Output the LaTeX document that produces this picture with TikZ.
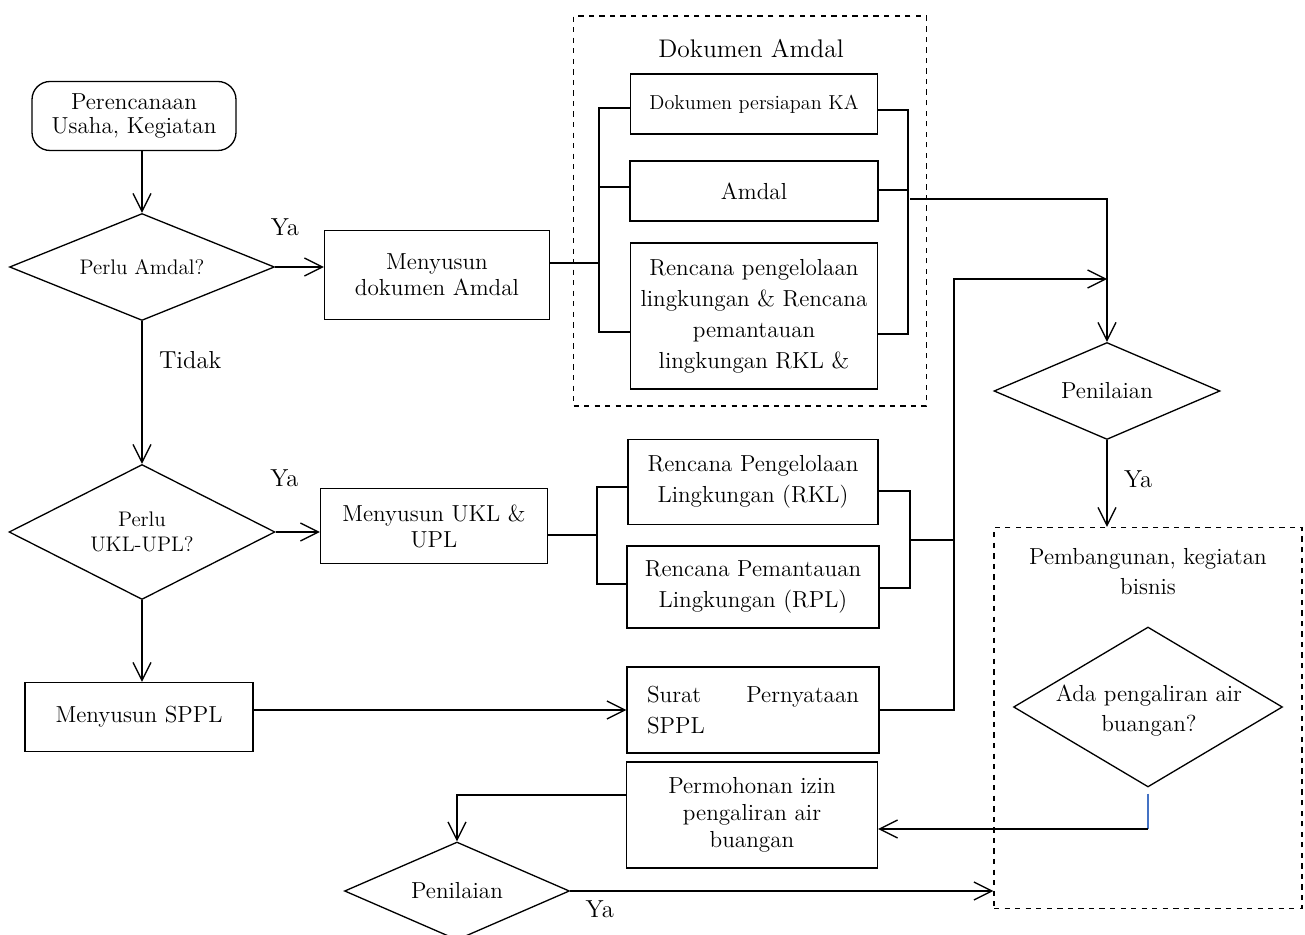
\documentclass[tikz,border=0pt]{standalone}
\usepackage{amsmath}
\usepackage{tikz}
\usetikzlibrary{arrows.meta,shapes.geometric}
\definecolor{linkblue}{RGB}{68,114,196}

\begin{document}
\begin{tikzpicture}[x=0.02cm, y=-0.02cm, line width=0.75pt,
    >={Straight Barb[length=3.6mm,width=3.6mm]},
    box/.style={draw, rectangle, inner sep=0pt, align=center, font=\fontsize{13.2}{17.6}\selectfont},
    decision/.style={draw, diamond, inner sep=0pt, align=center, font=\fontsize{13.2}{17}\selectfont},
    group/.style={draw, dashed, rectangle, inner sep=0pt},
    lbl/.style={font=\fontsize{14}{16}\selectfont}]
    \useasboundingbox (0,0) rectangle (1305,935);
    % left column
    \node[box, rounded corners=0.36cm, minimum width=4.08cm, minimum height=1.38cm, font=\fontsize{13.2}{13.6}\selectfont] (start) at (134,116) {Perencanaan\\Usaha, Kegiatan};
    \node[decision, shape aspect=2.48, minimum width=5.3cm, minimum height=2.14cm, font=\fontsize{12}{13}\selectfont] (amdalq) at (142,267) {Perlu Amdal?};
    \node[decision, shape aspect=1.97, minimum width=5.32cm, minimum height=2.7cm, font=\fontsize{12}{14.2}\selectfont] (uklq) at (142,532) {Perlu\\UKL-UPL?};
    \node[box, minimum width=4.56cm, minimum height=1.38cm] (sppl) at (139,717) {Menyusun SPPL};
    % middle column
    \node[box, minimum width=4.5cm, minimum height=1.78cm, font=\fontsize{13.2}{14.8}\selectfont] (susunamdal) at (437,275) {Menyusun\\dokumen Amdal};
    \node[box, minimum width=4.54cm, minimum height=1.5cm, font=\fontsize{13.2}{14.8}\selectfont] (susunukl) at (434,526) {Menyusun UKL \&\\UPL};
    \node[decision, shape aspect=2.3, minimum width=4.5cm, minimum height=1.96cm] (pen2) at (457,891) {Penilaian};
    % dokumen amdal
    \node[group, minimum width=7.06cm, minimum height=7.8cm] (amdalgrp) at (750,211) {};
    \node[lbl, font=\fontsize{14.5}{16}\selectfont] (amdaltitle) at (751,49) {Dokumen Amdal};
    \node[box, minimum width=4.94cm, minimum height=1.2cm, font=\fontsize{11.5}{13}\selectfont] (ka) at (754,104) {Dokumen persiapan KA};
    \node[box, minimum width=4.96cm, minimum height=1.2cm] (amdal) at (754,191) {Amdal};
    \node[box, minimum width=4.94cm, minimum height=2.92cm] (rencana) at (754,316) {Rencana pengelolaan\\lingkungan \& Rencana\\pemantauan\\lingkungan RKL \&};
    % UKL-UPL and SPPL
    \node[box, minimum width=5cm, minimum height=1.7cm] (rkl) at (753,482) {Rencana Pengelolaan\\Lingkungan (RKL)};
    \node[box, minimum width=5.04cm, minimum height=1.64cm] (rpl) at (753,587) {Rencana Pemantauan\\Lingkungan (RPL)};
    \node[box, minimum width=5.04cm, minimum height=1.72cm, text width=4.24cm, align=left] (surat) at (753,710) {Surat\hfill Pernyataan\\SPPL};
    \node[box, minimum width=5.02cm, minimum height=2.12cm, font=\fontsize{13.2}{15.3}\selectfont] (permohonan) at (752,815) {Permohonan izin\\pengaliran air\\buangan};
    % right column
    \node[decision, shape aspect=2.33, minimum width=4.52cm, minimum height=1.94cm] (pen1) at (1107,391) {Penilaian};
    \node[group, minimum width=6.16cm, minimum height=7.62cm] (bangun) at (1148,718) {};
    \node[align=center, font=\fontsize{13.2}{17}\selectfont] (bangtitle) at (1148,572) {Pembangunan, kegiatan\\bisnis};
    \node[decision, minimum width=5.38cm, minimum height=3.2cm] (ada) at (1148,707) {};
    \node[align=center, font=\fontsize{13.2}{17}\selectfont] (adatext) at (1149,711) {Ada pengaliran air\\buangan?};
    % bracket points
    \coordinate (lb) at (599,0);
    \coordinate (rb) at (908,0);
    \coordinate (lc) at (597,0);
    \coordinate (rc) at (910,0);
    \coordinate (riser) at (954,0);
    % connectors
    \draw[->] (amdalq.north |- start.south) -- (amdalq.north);
    \draw[->] (amdalq.east) -- (amdalq.east -| susunamdal.west) node[lbl, pos=0.2, above=14pt] {Ya};
    \draw[->] (amdalq.south) -- (uklq.north) node[lbl, pos=0.27, right=6pt] {Tidak};
    \draw[->] (uklq.east) -- (uklq.east -| susunukl.west) node[lbl, pos=0.2, above=22pt] {Ya};
    \draw[->] (uklq.south) -- (uklq.south |- sppl.north);
    \draw[->] (sppl.east |- surat.west) -- (surat.west);
    % dokumen amdal brackets
    \draw (susunamdal.east |- 0,263) -- (lb |- 0,263);
    \draw (ka.west |- 0,108) -| (lb |- 0,332) -- (rencana.west |- 0,332);
    \draw (amdal.west |- 0,187) -- (lb |- 0,187);
    \draw (ka.east |- 0,110) -| (rb |- 0,334) -- (rencana.east |- 0,334);
    \draw (amdal.east |- 0,190) -- (rb |- 0,190);
    \draw[->] (rc |- 0,199) -| (pen1.north);
    % RKL and RPL brackets
    \draw (susunukl.east |- 0,535) -- (lc |- 0,535);
    \draw (rkl.west |- 0,487) -| (lc |- 0,584) -- (rpl.west |- 0,584);
    \draw (rkl.east |- 0,491) -| (rc |- 0,588) -- (rpl.east |- 0,588);
    \draw (rc |- 0,540) -- (riser |- 0,540);
    \draw[->] (surat.east) -| (riser |- 0,279) -- (pen1.north |- 0,279);
    % lower part
    \draw[->] (pen1.south) -- (pen1.south |- bangun.north) node[lbl, pos=0.45, right=6pt] {Ya};
    \draw[linkblue, line width=0.6pt] ([yshift=-3.4pt]ada.south) -- (ada.south |- 0,829) coordinate (adaturn);
    \draw[->] (adaturn) -- (permohonan.east |- adaturn);
    \draw[->] (permohonan.west |- 0,795) -| (pen2.north);
    \draw[->] (pen2.east) -- (pen2.east -| bangun.west) node[lbl, pos=0.07, below=2pt] {Ya};
\end{tikzpicture}
\end{document}
